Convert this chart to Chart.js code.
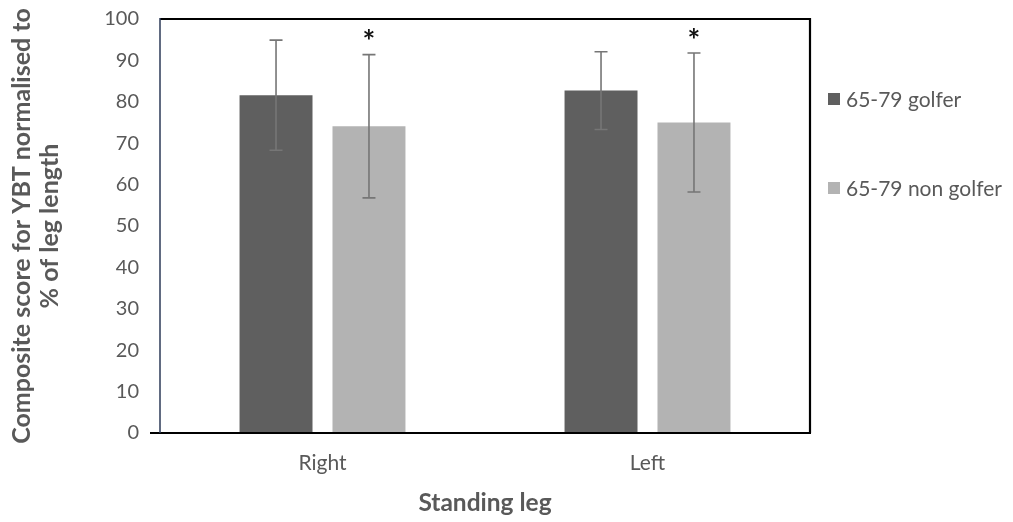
<!DOCTYPE html>
<html>
<head>
<meta charset="utf-8">
<script src="https://cdn.jsdelivr.net/npm/chart.js@4/dist/chart.umd.min.js"></script>
<style>
  html, body { margin: 0; padding: 0; background: #ffffff; }
  #wrap { width: 1013px; height: 522px; }
</style>
</head>
<body>
<div id="wrap"><canvas id="c" width="1013" height="522"></canvas></div>
<script>
// ---- data ----
const categories = ['Right', 'Left'];
const seriesLabels = ['65-79 golfer', '65-79 non golfer'];
const golferMeans = [81.6, 82.7];
const golferSD = [13.3, 9.4];
const nonGolferMeans = [74.1, 75.0];
const nonGolferSD = [17.3, 16.8];
const golferMarks = ['', ''];
const nonGolferMarks = ['*', '*'];
const yTickValues = [0, 10, 20, 30, 40, 50, 60, 70, 80, 90, 100];

const FONT = 'Lato, "Open Sans", "DejaVu Sans", sans-serif';
const TEXT = '#595959';

const errorBarPlugin = {
  id: 'errorBars',
  afterDatasetsDraw(chart) {
    const ctx = chart.ctx;
    const y = chart.scales.y;
    chart.data.datasets.forEach((ds, i) => {
      const meta = chart.getDatasetMeta(i);
      meta.data.forEach((el, j) => {
        const m = ds.data[j], sd = ds.errors[j];
        const yt = y.getPixelForValue(m + sd);
        const yb = y.getPixelForValue(m - sd);
        ctx.save();
        ctx.strokeStyle = '#767676';
        ctx.lineWidth = 1.6;
        ctx.beginPath();
        ctx.moveTo(el.x, yt); ctx.lineTo(el.x, yb);
        ctx.moveTo(el.x - 6.5, yt); ctx.lineTo(el.x + 6.5, yt);
        ctx.moveTo(el.x - 6.5, yb); ctx.lineTo(el.x + 6.5, yb);
        ctx.stroke();
        const mark = ds.marks[j];
        if (mark) {
          ctx.fillStyle = '#111111';
          ctx.font = 'bold 30px ' + FONT;
          ctx.textAlign = 'center';
          ctx.textBaseline = 'middle';
          ctx.fillText(mark, el.x, yt - 12);
        }
        ctx.restore();
      });
    });
  }
};

const framePlugin = {
  id: 'frame',
  afterDatasetsDraw(chart) {
    const {left, right, top, bottom} = chart.chartArea;
    const ctx = chart.ctx;
    ctx.save();
    ctx.strokeStyle = '#000000';
    ctx.lineWidth = 2.2;
    ctx.beginPath();
    ctx.moveTo(left, top); ctx.lineTo(right, top); ctx.lineTo(right, bottom);
    ctx.moveTo(left - 10, bottom); ctx.lineTo(right + 1, bottom);
    ctx.stroke();
    ctx.strokeStyle = '#2c3a57';
    ctx.lineWidth = 1.5;
    ctx.beginPath();
    ctx.moveTo(left, top - 1); ctx.lineTo(left, bottom);
    ctx.stroke();
    ctx.restore();
  }
};

const legendPlugin = {
  id: 'sideLegend',
  afterDraw(chart) {
    const ctx = chart.ctx;
    const {right, top} = chart.chartArea;
    const rows = [top + 80, top + 169];
    ctx.save();
    chart.data.datasets.forEach((ds, i) => {
      const yc = rows[i];
      ctx.fillStyle = ds.backgroundColor;
      ctx.fillRect(right + 18, yc - 6, 12, 12);
      ctx.fillStyle = TEXT;
      ctx.font = '21px ' + FONT;
      ctx.textAlign = 'left';
      ctx.textBaseline = 'middle';
      ctx.fillText(ds.label, right + 36, yc + 1);
    });
    ctx.restore();
  }
};

new Chart(document.getElementById('c'), {
  type: 'bar',
  data: {
    labels: categories,
    datasets: [
      { label: seriesLabels[0], data: golferMeans, errors: golferSD, marks: golferMarks,
        backgroundColor: '#5f5f5f', borderWidth: 0 },
      { label: seriesLabels[1], data: nonGolferMeans, errors: nonGolferSD, marks: nonGolferMarks,
        backgroundColor: '#b3b3b3', borderWidth: 0 }
    ]
  },
  options: {
    responsive: false,
    animation: false,
    layout: { padding: { top: 19, right: 203, bottom: 0, left: 0 } },
    datasets: { bar: { categoryPercentage: 0.572, barPercentage: 0.785 } },
    plugins: { legend: { display: false }, tooltip: { enabled: false } },
    scales: {
      x: {
        grid: { display: false, drawTicks: false },
        border: { display: false },
        ticks: { color: TEXT, font: { family: FONT, size: 21 }, padding: 18 },
        title: { display: true, text: 'Standing leg', color: TEXT,
                 font: { family: FONT, size: 24.5, weight: 'bold', lineHeight: 1.2 }, padding: { top: 0, bottom: 4 } },
        afterFit(scale) { scale.height = 89; scale.paddingLeft = 0; scale.paddingRight = 0; }
      },
      y: {
        min: 0, max: 100,
        grid: { display: false, drawTicks: false },
        border: { display: false },
        afterBuildTicks(scale) { scale.ticks = yTickValues.map(v => ({ value: v })); },
        ticks: { color: TEXT, font: { family: FONT, size: 20 }, padding: 21 },
        title: { display: true, text: ['Composite score for YBT normalised to', '% of leg length'],
                 color: TEXT, font: { family: FONT, size: 25, weight: 'bold', lineHeight: 1.12 },
                 padding: { top: 8, bottom: 0 } },
        afterFit(scale) { scale.width = 160; scale.paddingTop = 0; scale.paddingBottom = 0; }
      }
    }
  },
  plugins: [errorBarPlugin, framePlugin, legendPlugin]
});
</script>
</body>
</html>
